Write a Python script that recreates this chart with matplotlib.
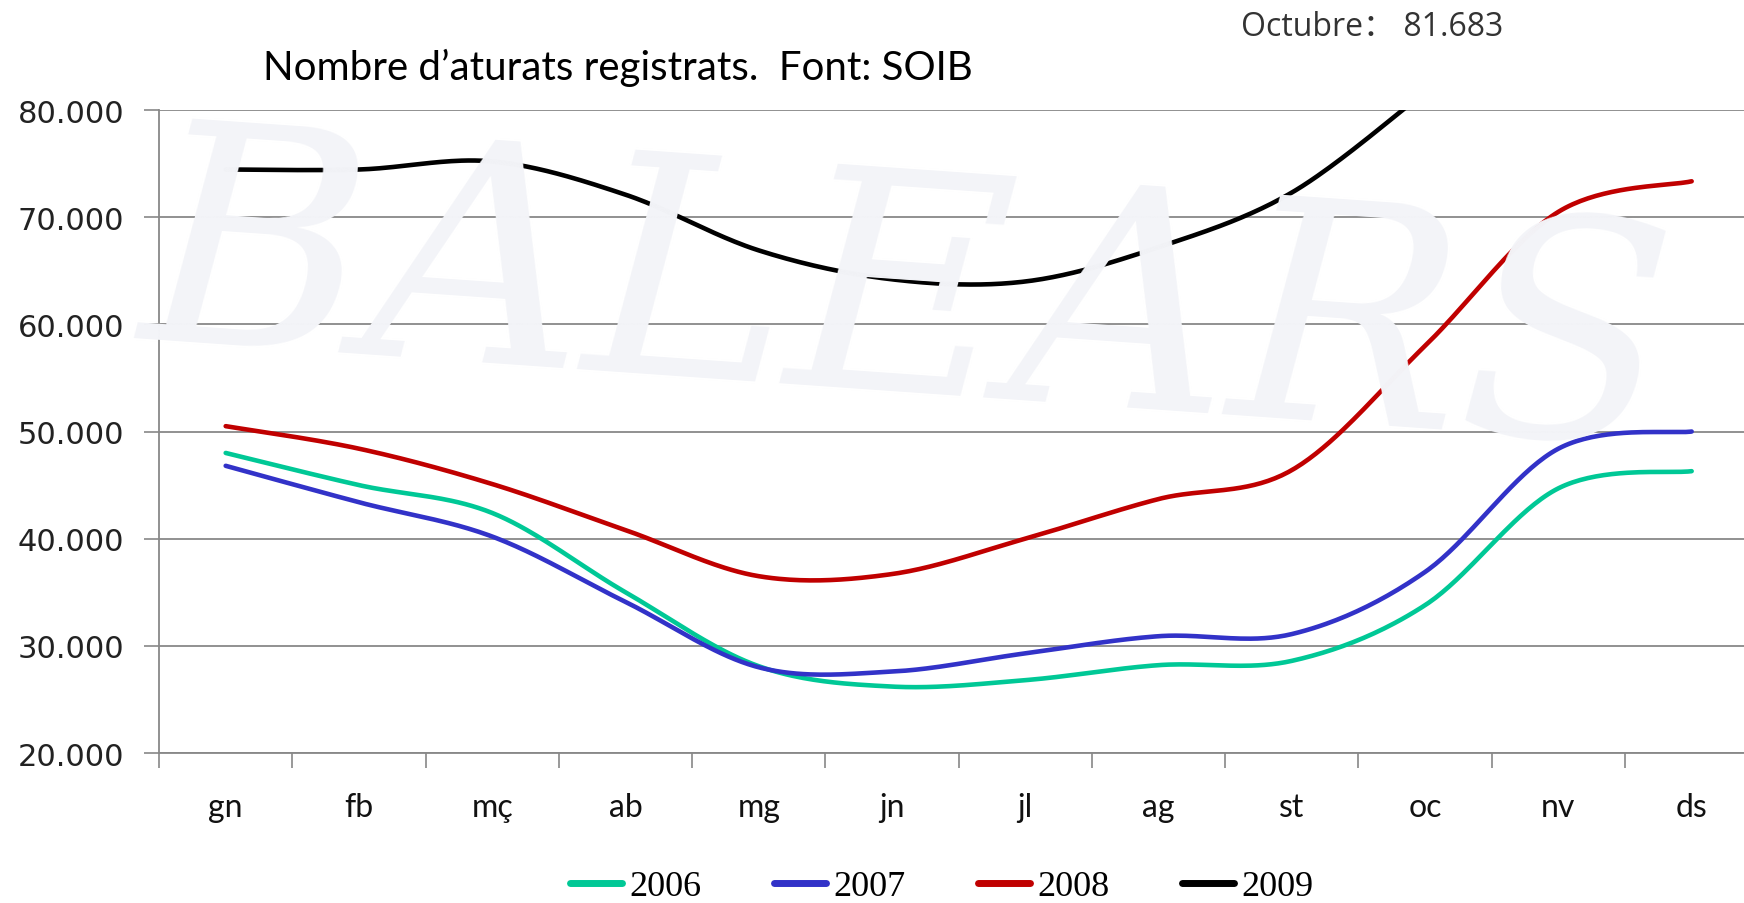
import numpy as np
import matplotlib
matplotlib.use("Agg")
import matplotlib.pyplot as plt

# --- DATA ---
months = ['gn', 'fb', 'mç', 'ab', 'mg', 'jn', 'jl', 'ag', 'st', 'oc', 'nv', 'ds']
y2006 = [48000, 45000, 42400, 35000, 28100, 26200, 26800, 28200, 28600, 33800, 44700, 46300]
y2007 = [46800, 43400, 40200, 34100, 28000, 27600, 29300, 30900, 31100, 36900, 48400, 50000]
y2008 = [50500, 48400, 45100, 40800, 36500, 36700, 40000, 43700, 46400, 58000, 70500, 73350]
y2009 = [74450, 74450, 75200, 72100, 66900, 64200, 64000, 67200, 72300, 81683]
years = ['2006', '2007', '2008', '2009']
colors = ['#00C896', '#3232C8', '#C00000', '#000000']
yticks = [20000, 30000, 40000, 50000, 60000, 70000, 80000]
title = "Nombre d\u2019aturats registrats.  Font: SOIB"
note = "Octubre\uff1a 81.683"


def smooth(vals, n=40):
    # Bezier smoothing like the spreadsheet "smoothed line" option
    x = np.arange(len(vals), dtype=float)
    y = np.asarray(vals, dtype=float)
    px = np.concatenate([[x[0]], x, [x[-1]]])
    py = np.concatenate([[y[0]], y, [y[-1]]])
    xs, ys = [], []
    t = np.linspace(0, 1, n)
    for i in range(1, len(x)):
        p0 = np.array([px[i], py[i]])
        p3 = np.array([px[i + 1], py[i + 1]])
        c1 = p0 + (p3 - np.array([px[i - 1], py[i - 1]])) / 6
        c2 = p3 - (np.array([px[i + 2], py[i + 2]]) - p0) / 6
        b = ((1 - t) ** 3)[:, None] * p0 + (3 * (1 - t) ** 2 * t)[:, None] * c1 \
            + (3 * (1 - t) * t ** 2)[:, None] * c2 + (t ** 3)[:, None] * p3
        xs.append(b[:, 0])
        ys.append(b[:, 1])
    return np.concatenate(xs), np.concatenate(ys)


fig = plt.figure(figsize=(17.44, 9.04), dpi=100)
fig.patch.set_facecolor('white')

# faint watermark behind the chart
fig.text(0.52, 0.66, 'BALEARS', fontsize=220, color='#F3F4F8', ha='center', va='center',
         family='DejaVu Serif', style='italic', rotation=-4, zorder=0)

ax = fig.add_axes([0.0912, 0.1659, 0.917, 0.7113])
ax.patch.set_alpha(0)

for vals, c, lab in zip([y2006, y2007, y2008, y2009], colors, years):
    sx, sy = smooth(vals)
    ax.plot(sx, sy, color=c, lw=3.3, solid_capstyle='round', label=lab, zorder=3)

ax.set_xlim(-0.5, 11.5)
ax.set_ylim(20000, 80000)
ax.set_yticks(yticks)
ax.set_yticklabels([f"{v:,}".replace(',', '.') for v in yticks])
ax.set_xticks(range(len(months)))
ax.set_xticklabels(months)
ax.set_xticks(np.arange(-0.5, 12, 1), minor=True)
ax.tick_params(axis='x', which='major', length=0, pad=28, labelsize=23, labelcolor='#111111')
ax.tick_params(axis='x', which='minor', length=11, width=1.2, color='#888888')
ax.tick_params(axis='y', length=11, width=1.2, color='#888888', pad=14, labelsize=22,
               labelcolor='#222222')
for lbl in ax.get_xticklabels():
    lbl.set_family('Lato')
ax.grid(axis='y', color='#888888', lw=1.3, zorder=1)
for s in ['top', 'right']:
    ax.spines[s].set_visible(False)
for s in ['left', 'bottom']:
    ax.spines[s].set_color('#888888')
    ax.spines[s].set_linewidth(1.3)

fig.text(0.354, 1 - 80 / 904, title, fontsize=29, family='Lato', ha='center', va='baseline')
fig.text(0.787, 0.970, note, fontsize=23, family=['Open Sans', 'Noto Sans CJK SC'],
         ha='center', va='center', color='#333333')

leg = fig.legend(loc='center', bbox_to_anchor=(0.54, 0.018), ncol=4, frameon=False,
                 prop={'family': 'Liberation Serif', 'size': 26}, handlelength=1.45,
                 handletextpad=0.2, columnspacing=2.0)
for h in leg.legend_handles:
    h.set_linewidth(5)

fig.savefig('out.png', dpi=100, facecolor='white')
